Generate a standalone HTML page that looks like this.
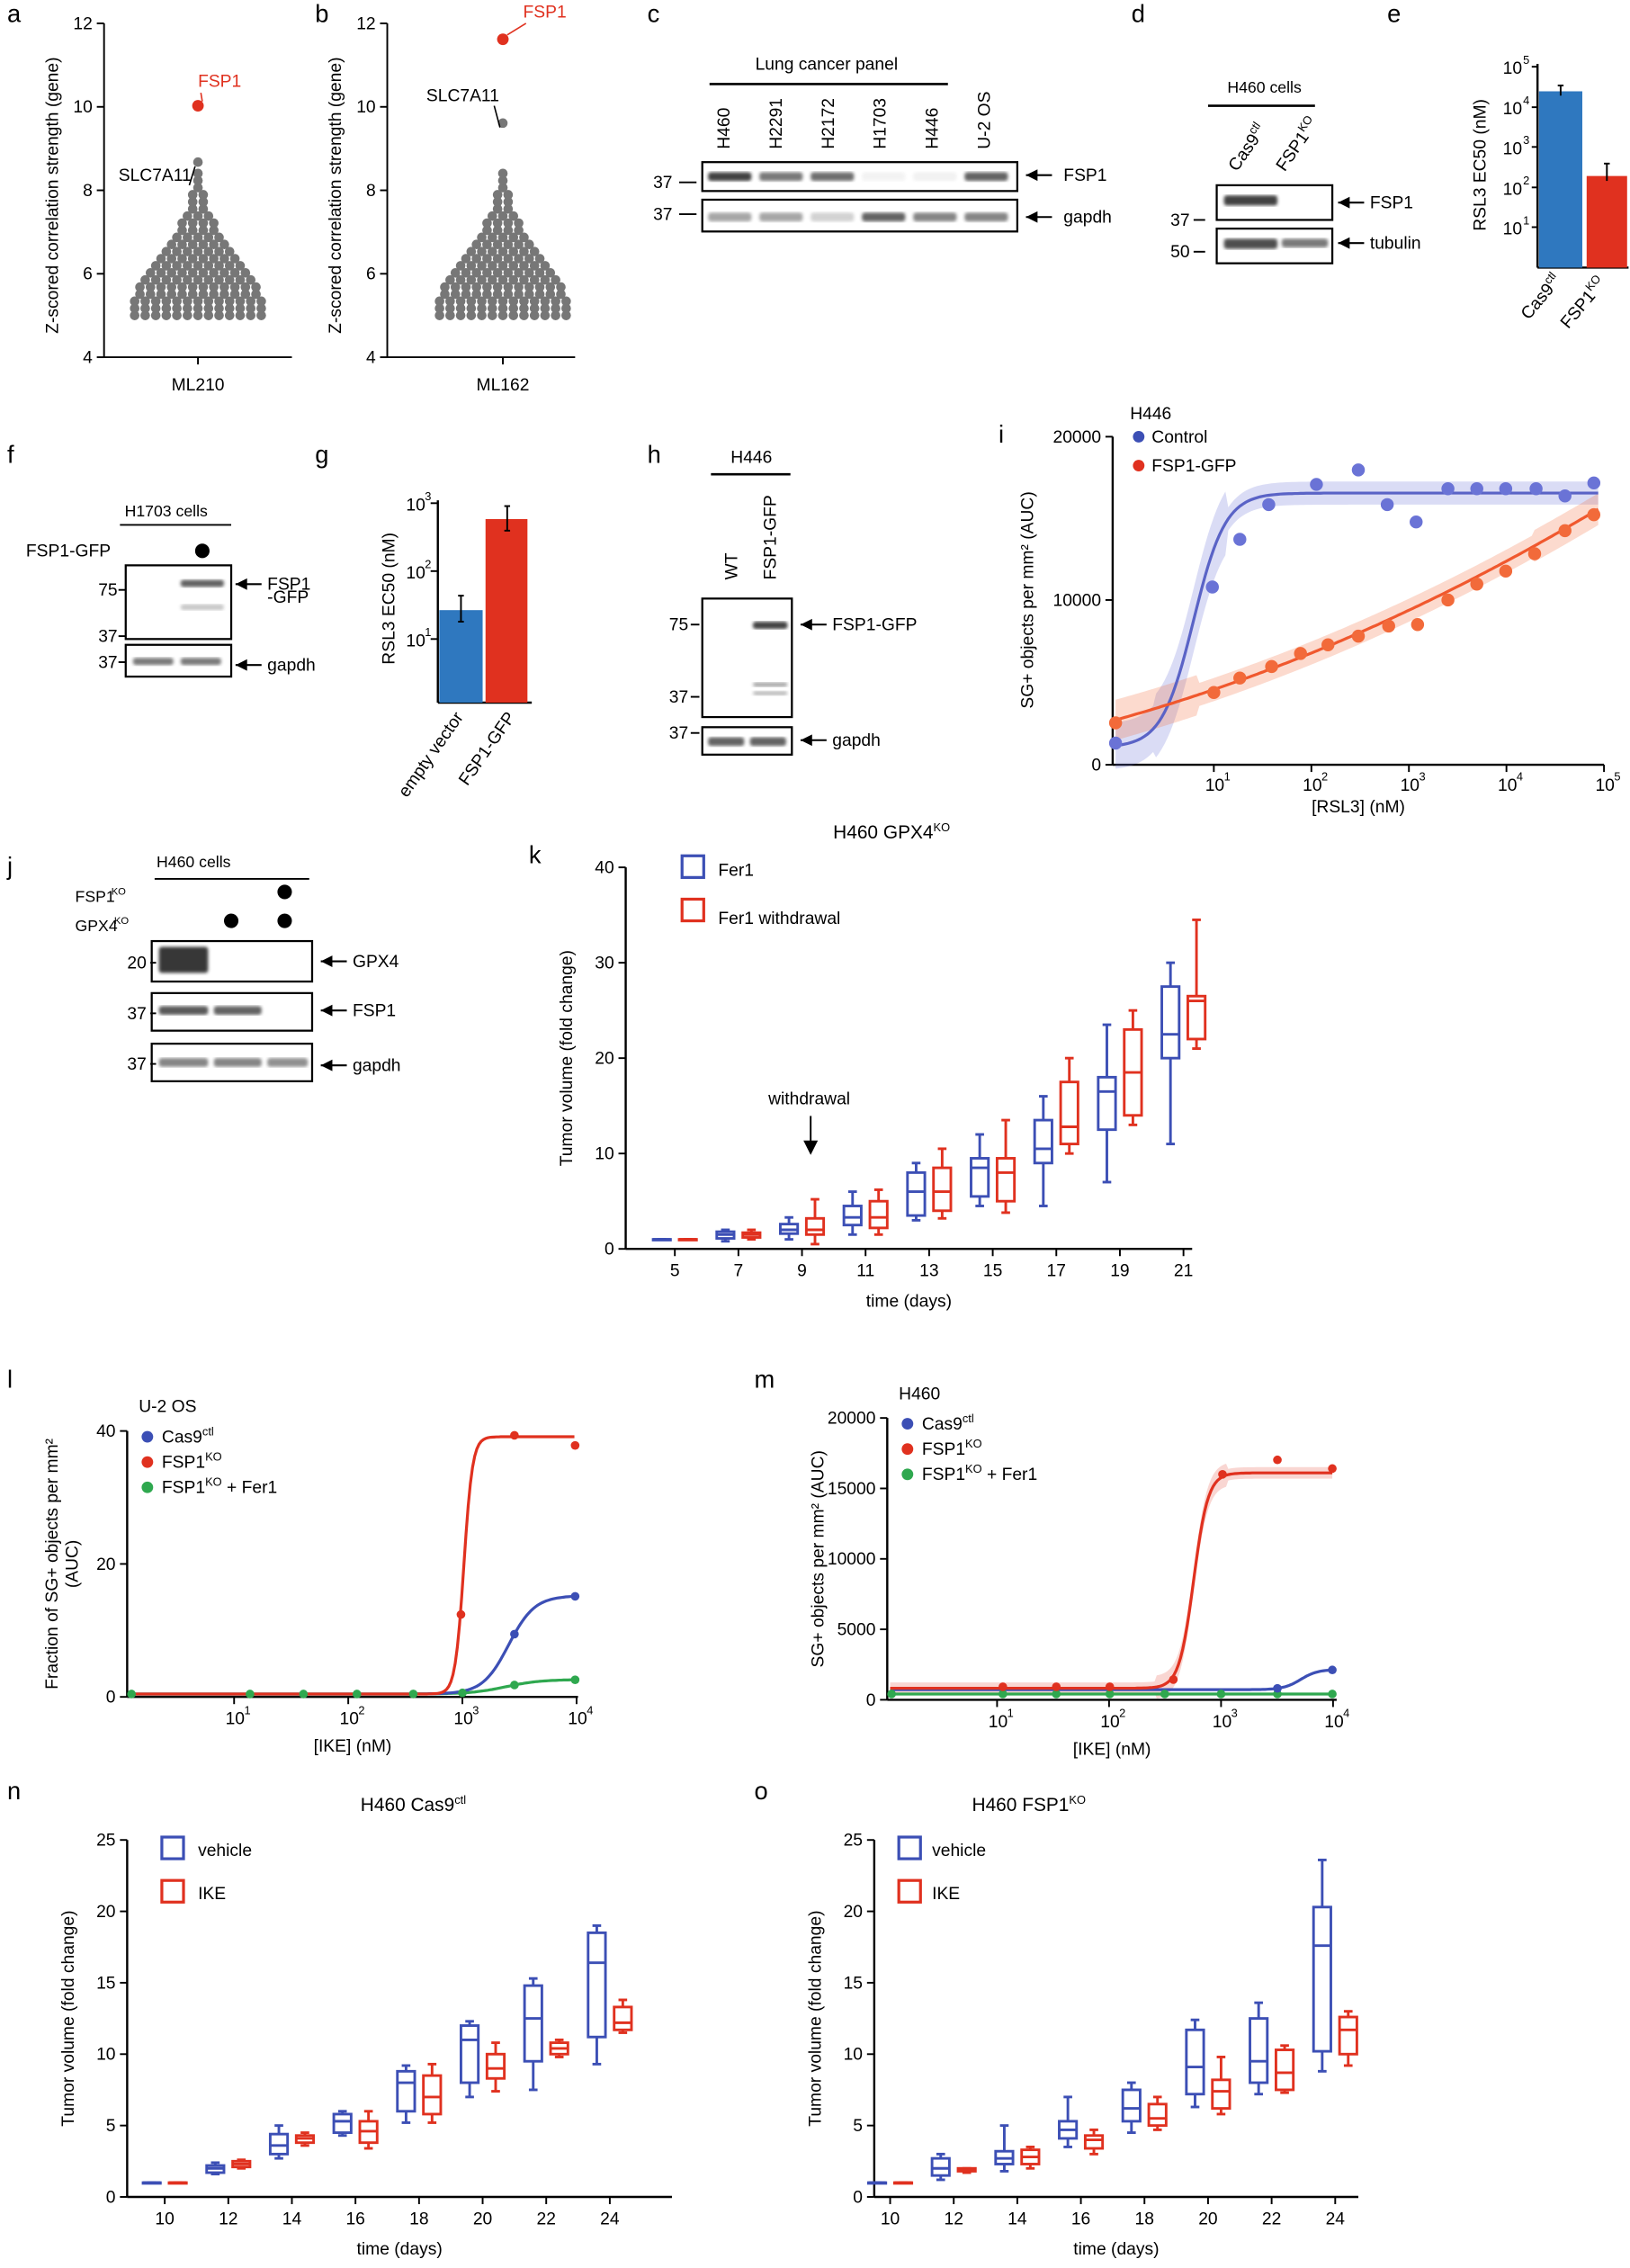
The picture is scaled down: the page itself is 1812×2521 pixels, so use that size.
<!DOCTYPE html>
<html><head><meta charset="utf-8">
<style>
html,body{margin:0;padding:0;background:#fff;}
svg{display:block;font-family:"Liberation Sans",Arial,sans-serif;}
</style></head>
<body>
<svg id="s" width="1812" height="2521" viewBox="0 0 1128 1569" xmlns="http://www.w3.org/2000/svg">
<defs><filter id="bl"><feGaussianBlur stdDeviation="1.2"/></filter></defs>
</svg>
<script>
const S=document.getElementById('s');const NS='http://www.w3.org/2000/svg';
function el(t,a,txt){const e=document.createElementNS(NS,t);for(const k in a)e.setAttribute(k,a[k]);if(txt!==undefined)e.textContent=txt;S.appendChild(e);return e;}
function L(x1,y1,x2,y2,c='#000',w=1.2){el('line',{x1,y1,x2,y2,stroke:c,'stroke-width':w});}
function T(x,y,s,o={}){const a=Object.assign({x,y,'font-size':12,fill:'#000'},o);return el('text',a,s);}
function TR(x,y,s,ang=-90,o={}){return T(x,y,s,Object.assign({transform:`rotate(${ang} ${x} ${y})`},o));}
function TH(x,y,html,ang,o={}){const e=T(x,y,'',Object.assign({transform:`rotate(${ang} ${x} ${y})`},o));e.innerHTML=html;return e;}
function C(cx,cy,r,f){el('circle',{cx,cy,r,fill:f});}
function R(x,y,w,h,o={}){el('rect',Object.assign({x,y,width:w,height:h,fill:'none',stroke:'#000','stroke-width':1.4},o));}
function P(d,o){el('path',Object.assign({d,fill:'none'},o));}
function arrow(x,y,txt,tx){P(`M${x+18} ${y}L${x} ${y}`,{stroke:'#000','stroke-width':1.3});P(`M${x} ${y}l8 -4l0 8z`,{fill:'#000'});T(tx||x+22,y+4,txt);}
function band(x,y,w,h,op){el('rect',{x,y,width:w,height:h,rx:2,fill:'#222',opacity:op,filter:'url(#bl)'});}
[['a',5,15],['b',218,15],['c',448,15],['d',783,15],['e',960,15],['f',5,320],['g',218,320],['h',448,320],['i',691,306],['j',5,605],['k',366,597],['l',5,960],['m',522,960],['n',5,1245],['o',522,1245]].forEach(p=>T(p[1],p[2],p[0],{'font-size':17}));
const GR='#3c4fb5',RD='#e0311f',GN='#2fa84f';
const sup=(a,b)=>`${a}<tspan font-size="8" dy="-5">${b}</tspan>`;
function swarm(ax,cx,fspY,slcY,fspLab,slcLab){
 L(ax,16,ax,247);[12,10,8,6,4].forEach((v,i)=>{const y=16+i*57.75;L(ax-5,y,ax,y);T(ax-8,y+4,v,{'text-anchor':'end'});});
 L(ax,247,ax+130,247);L(cx,247,cx,252);
 let i=0;
 for(let v=5;v<8.4;v+=0.17,i++){const y=247-(v-4)*28.9;
  let n=Math.round(13*Math.exp(-Math.pow(v-5,2)/(2*1.4*1.4)));n=Math.max(1,n);
  for(let k=0;k<n;k++){const x=cx+(k-(n-1)/2)*7.3;C(x,y,3.3,'#777');}}
 C(cx,slcY,3.3,'#777');C(cx,fspY,4,RD);
 T(fspLab[0],fspLab[1],'FSP1',{fill:RD});L(fspLab[0]+2,fspLab[1]+4,cx+3,fspY-3,RD,1);
 T(slcLab[0],slcLab[1],'SLC7A11');L(cx-6,slcLab[1]+3,cx-2,slcY+3,'#000',1);
}
swarm(72,137,73,112,[137,60],[82,125]);TR(40,135,'Z-scored correlation strength (gene)',-90,{'text-anchor':'middle'});T(137,270,'ML210',{'text-anchor':'middle'});
swarm(268,348,27,85,[362,12],[295,70]);TR(236,135,'Z-scored correlation strength (gene)',-90,{'text-anchor':'middle'});T(348,270,'ML162',{'text-anchor':'middle'});
// c
T(572,48,'Lung cancer panel',{'text-anchor':'middle'});L(491,58,656,58,'#000',1.6);
['H460','H2291','H2172','H1703','H446','U-2 OS'].forEach((s,i)=>{TR(505+i*36,103,s);});
R(486,112,218,20);R(486,138,218,22);
[.85,.6,.65,.05,.06,.7].forEach((o,i)=>band(490+i*35.5,119,30,6,o));
[.4,.4,.2,.7,.55,.55].forEach((o,i)=>band(490+i*35.5,147,30,6,o));
T(452,130,'37');L(470,126,482,126);T(452,152,'37');L(470,148,482,148);arrow(710,121,'FSP1',736);arrow(710,150,'gapdh',736);
// d
T(875,64,'H460 cells',{'text-anchor':'middle','font-size':11});L(836,73,910,73,'#000',1.6);
TH(856,119,sup('Cas9','ctl'),-55);TH(889,119,sup('FSP1','KO'),-55);
R(842,128,80,24);R(842,158,80,24);band(847,135,37,7,.85);band(847,165,37,7,.8);band(887,165,32,6,.6);
T(810,156,'37');L(826,152,834,152);T(810,178,'50');L(826,174,834,174);arrow(926,140,'FSP1',948);arrow(926,168,'tubulin',948);
// e
L(1064,44,1064,185,'#000',1.5);[[5,46],[4,74],[3,101.5],[2,129.5],[1,157]].forEach(p=>{L(1060,p[1],1064,p[1]);T(1040,p[1]+5,'10');T(1054,p[1]-2,p[0],{'font-size':8});});
L(1064,185,1127,185,'#000',1.5);el('rect',{x:1065,y:63,width:30,height:122,fill:'#2f78bf'});el('rect',{x:1098,y:121.6,width:28,height:63.4,fill:RD});
L(1080,59,1080,66);L(1078,59,1082,59);L(1112,113,1112,125);L(1110,113,1114,113);
TR(1028,114,'RSL3 EC50 (nM)',-90,{'text-anchor':'middle'});TH(1081,194,sup('Cas9','ctl'),-50,{'text-anchor':'end'});TH(1112,196,sup('FSP1','KO'),-50,{'text-anchor':'end'});
// f
T(115,357,'H1703 cells',{'text-anchor':'middle','font-size':11});L(83,363,160,363);T(18,385,'FSP1-GFP');C(140,381,5,'#000');
R(87,391,73,51);R(87,446,73,22);band(125,401,30,5,.7);band(125,418,30,4,.25);band(92,455,28,5,.6);band(125,455,28,5,.6);
T(68,412,'75');L(82,408,87,408);T(68,444,'37');L(82,440,87,440);T(68,462,'37');L(82,458,87,458);
arrow(163,404,'FSP1');T(185,417,'-GFP');arrow(163,460,'gapdh');
// g
L(303,346,303,486,'#000',1.5);[[3,348],[2,395],[1,442]].forEach(p=>{L(298,p[1],303,p[1]);T(281,p[1]+5,'10');T(294,p[1]-2,p[0],{'font-size':8});});
L(303,486,368,486,'#000',1.5);el('rect',{x:304,y:422,width:30,height:64,fill:'#2f78bf'});el('rect',{x:336,y:359,width:29,height:127,fill:RD});
L(319,412,319,430);L(317,412,321,412);L(317,430,321,430);L(351,350,351,367);L(349,350,353,350);L(349,367,353,367);
TR(273,414,'RSL3 EC50 (nM)',-90,{'text-anchor':'middle'});TR(321,496,'empty vector',-55,{'text-anchor':'end'});TR(357,496,'FSP1-GFP',-55,{'text-anchor':'end'});
// h
T(520,320,'H446',{'text-anchor':'middle'});L(492,328,547,328,'#000',1.6);TR(510,401,'WT');TR(537,401,'FSP1-GFP');
R(486,414,62,82);R(486,503,62,19);band(521,430,24,5,.85);band(521,472,24,3,.4);band(521,478,24,3,.3);band(490,510,25,6,.7);band(519,510,25,6,.7);
T(463,436,'75');L(478,432,484,432);T(463,486,'37');L(478,482,484,482);T(463,511,'37');L(478,507,484,507);
arrow(554,432,'FSP1-GFP',576);arrow(554,512,'gapdh',576);
// i
(function(){const x0=770,y0=529;L(x0,302,x0,y0,'#000',1.5);L(x0,y0,1110,y0,'#000',1.5);
[[20000,302],[10000,415],[0,529]].forEach(p=>{L(x0-5,p[1],x0,p[1]);T(x0-8,p[1]+4,p[0],{'text-anchor':'end'});});
[1,2,3,4,5].forEach(k=>{const x=840+67.5*(k-1);L(x,y0,x,y0+5);T(x-6,y0+18,'10');T(x+7,y0+11,k,{'font-size':8});});
T(940,562,'[RSL3] (nM)',{'text-anchor':'middle'});TR(715,415,'SG+ objects per mm² (AUC)',-90,{'text-anchor':'middle'});
T(782,290,'H446');C(788,302,4,GR);T(797,306,'Control');C(788,322,4,RD);T(797,326,'FSP1-GFP');
let db='',dr='',ub='',lb='',ur='',lr='';
for(let x=772;x<=1106;x+=2){const s=1/(1+Math.exp(-(x-826)/11));const yb=517-176*s;db+=(x==772?'M':'L')+x+' '+yb.toFixed(1);
 const t=x-772;const yr=498-0.277*t-0.000478*t*t;dr+=(x==772?'M':'L')+x+' '+yr.toFixed(1);
 const wb=x<850?(x<800?16:22):8;ub+=(x==772?'M':'L')+x+' '+(yb-wb);lb='L'+x+' '+(yb+wb)+lb;
 const wr=x<830?14:(x>1060?11:8);ur+=(x==772?'M':'L')+x+' '+(yr-wr);lr='L'+x+' '+(yr+wr)+lr;}
P(ub+lb+'Z',{fill:'#6a73d6',opacity:.25});P(ur+lr+'Z',{fill:'#f26a3a',opacity:.25});
P(db,{stroke:'#5a63c6','stroke-width':2});P(dr,{stroke:'#f0582e','stroke-width':2});
[[772,514],[839,406],[858,373],[878,349],[911,335],[940,325],[960,349],[980,361],[1002,338],[1022,338],[1042,338],[1063,338],[1083,343],[1103,334]].forEach(p=>C(p[0],p[1],4.5,'#6a73d6'));
[[772,500],[840,479],[858,469],[880,461],[900,452],[919,446],[940,440],[961,433],[981,432],[1002,415],[1022,404],[1042,395],[1062,383],[1083,367],[1103,356]].forEach(p=>C(p[0],p[1],4.5,'#f26a3a'));
})();
// j
T(134,600,'H460 cells',{'text-anchor':'middle','font-size':11});L(107,608,214,608);
T(52,624,'FSP1',{'font-size':11});T(77,619,'KO',{'font-size':7});T(52,644,'GPX4',{'font-size':11});T(79,639,'KO',{'font-size':7});
C(197,617,5,'#000');C(160,637,5,'#000');C(197,637,5,'#000');
R(105,651,111,28);R(105,687,111,26);R(105,722,111,26);
band(110,655,34,18,.9);band(110,696,34,6,.75);band(148,696,33,6,.7);band(110,732,34,6,.55);band(148,732,33,6,.55);band(185,732,28,6,.5);
T(88,670,'20');L(104,666,108,666);T(88,705,'37');L(104,701,108,701);T(88,740,'37');L(104,736,108,736);
arrow(222,665,'GPX4');arrow(222,699,'FSP1');arrow(222,737,'gapdh');
function bx(x,a,c,Y,w){const[mn,q1,md,q3,mx]=a.map(Y);L(x,mn,x,q1,c,1.8);L(x,q3,x,mx,c,1.8);L(x-w/4,mn,x+w/4,mn,c,1.8);L(x-w/4,mx,x+w/4,mx,c,1.8);
 el('rect',{x:x-w/2,y:q3,width:w,height:Math.max(q1-q3,.5),fill:'#fff',stroke:c,'stroke-width':1.8});L(x-w/2,md,x+w/2,md,c,1.8);}
function boxpanel(o){const{ax,top,bot,xr,yt,ticks,xt,bl,rd,title,tx,ylab,lx,ly}=o;
 L(ax,top,ax,bot,'#000',1.5);L(ax,bot,xr,bot,'#000',1.5);const Y=v=>bot-(bot-top)*v/yt;
 ticks.forEach(v=>{L(ax-5,Y(v),ax,Y(v));T(ax-8,Y(v)+4,v,{'text-anchor':'end'});});
 xt.forEach((p,i)=>{L(p[1],bot,p[1],bot+5);T(p[1],bot+19,p[0],{'text-anchor':'middle'});
  bx(p[1]-9,bl[i],GR,Y,12);bx(p[1]+9,rd[i],RD,Y,12);});
 T((ax+xr)/2,bot+40,'time (days)',{'text-anchor':'middle'});TR(ax-37,(top+bot)/2,ylab,-90,{'text-anchor':'middle'});
 el('text',{x:tx,y:top-20,'font-size':13,'text-anchor':'middle'}).innerHTML=title;
 R(lx,ly,15,15,{stroke:GR,'stroke-width':2});R(lx,ly+30,15,15,{stroke:RD,'stroke-width':2});
}
const f1=[1,1,1,1,1];
boxpanel({ax:433,top:600,bot:864,xr:825,yt:40,ticks:[0,10,20,30,40],xt:[5,7,9,11,13,15,17,19,21].map((d,i)=>[d,467+44*i]),
 bl:[f1,[.8,1.1,1.5,1.8,2],[1,1.6,2,2.6,3.3],[1.5,2.5,3.3,4.5,6],[3,3.5,6,8,9],[4.5,5.5,8.5,9.5,12],[4.5,9,10.5,13.5,16],[7,12.5,16.5,18,23.5],[11,20,22.5,27.5,30]],
 rd:[f1,[1,1.2,1.5,1.7,2],[.5,1.5,2,3.2,5.2],[1.5,2.2,3.3,5,6.2],[3.2,4,6,8.5,10.5],[3.8,5,8,9.5,13.5],[10,11,12.8,17.5,20],[13,14,18.5,23,25],[21,22,26,26.5,34.5]],
 title:'H460 GPX4<tspan font-size="8" dy="-5">KO</tspan>',tx:617,ylab:'Tumor volume (fold change)',lx:472,ly:592});
T(497,606,'Fer1');T(497,639,'Fer1 withdrawal');T(560,764,'withdrawal',{'text-anchor':'middle'});L(561,772,561,790);P('M561 799l-5 -10h10z',{fill:'#000'});
boxpanel({ax:88,top:1273,bot:1520,xr:465,yt:25,ticks:[0,5,10,15,20,25],xt:[10,12,14,16,18,20,22,24].map((d,i)=>[d,114+44*i]),
 bl:[f1,[1.6,1.7,2,2.2,2.4],[2.7,3,3.6,4.4,5],[4.3,4.5,5.3,5.8,6],[5.2,6,8,8.8,9.2],[7,8,11,12,12.3],[7.5,9.5,12.5,14.8,15.3],[9.3,11.2,16.4,18.5,19]],
 rd:[f1,[2,2.1,2.3,2.5,2.6],[3.6,3.8,4.1,4.3,4.5],[3.4,3.8,4.6,5.3,6],[5.2,5.8,7,8.5,9.3],[7.4,8.3,9,10,10.8],[9.8,10,10.4,10.8,11],[11.5,11.7,12.2,13.3,13.8]],
 title:'H460 Cas9<tspan font-size="8" dy="-5">ctl</tspan>',tx:286,ylab:'Tumor volume (fold change)',lx:112,ly:1271});
T(137,1284,'vehicle');T(137,1314,'IKE');
boxpanel({ax:605,top:1273,bot:1520,xr:940,yt:25,ticks:[0,5,10,15,20,25],xt:[10,12,14,16,18,20,22,24].map((d,i)=>[d,616+44*i]),
 bl:[f1,[1.2,1.5,2,2.7,3],[1.8,2.3,2.7,3.2,5],[3.5,4.1,4.7,5.3,7],[4.5,5.3,6.2,7.5,8],[6.3,7.2,9.1,11.7,12.4],[7.2,8,9.5,12.5,13.6],[8.8,10.2,17.6,20.3,23.6]],
 rd:[f1,[1.7,1.8,1.9,2,2],[2,2.3,2.8,3.3,3.5],[3,3.4,4,4.3,4.7],[4.7,5,5.5,6.5,7],[5.8,6.2,7.4,8.2,9.8],[7.3,7.5,8.7,10.3,10.6],[9.2,10,11.7,12.6,13]],
 title:'H460 FSP1<tspan font-size="8" dy="-5">KO</tspan>',tx:712,ylab:'Tumor volume (fold change)',lx:622,ly:1271});
T(645,1284,'vehicle');T(645,1314,'IKE');
function ike(o){const{ax,top,bot,xr,dec0,dpd,ticks,tv,title,ylab,red,blue,green,rdots,bdots,band:bd,ylx}=o;
 L(ax,top,ax,bot,'#000',1.5);L(ax,bot,xr,bot,'#000',1.5);ticks.forEach((v,i)=>{const y=bot-(bot-top)*tv[i];L(ax-5,y,ax,y);T(ax-8,y+4,v,{'text-anchor':'end'});});
 [1,2,3,4].forEach(k=>{const x=dec0+dpd*(k-1);L(x,bot,x,bot+5);T(x-6,bot+19,'10');T(x+7,bot+12,k,{'font-size':8});});
 T((ax+xr)/2,bot+38,'[IKE] (nM)',{'text-anchor':'middle'});
 ylab.forEach((s,i)=>TR(ylx+i*14,(top+bot)/2,s,-90,{'text-anchor':'middle'}));
 T(ax+8,top-13,title);
 const labs=[sup('Cas9','ctl'),sup('FSP1','KO'),'FSP1<tspan font-size="8" dy="-5">KO</tspan><tspan dy="5"> + Fer1</tspan>'];
 [GR,RD,GN].forEach((c,i)=>{const y=top+4+i*17.5;C(ax+14,y,4,c);T(ax+24,y+4,'').innerHTML=labs[i];});
 function curve(f,c,w){let d='';for(let x=ax+2;x<=xr-2;x+=1.5)d+=(d?'L':'M')+x+' '+f(x).toFixed(1);P(d,{stroke:c,'stroke-width':w});}
 if(bd){let u='',l='';for(let x=ax+2;x<=xr-2;x+=1.5){const y=red(x);const w=(x>800&&x<850)?bd*2:bd;u+=(u?'L':'M')+x+' '+(y-w);l='L'+x+' '+(y+w)+l;}P(u+l+'Z',{fill:RD,opacity:.2});}
 curve(green,GN,2);curve(blue,GR,2);curve(red,RD,2);
 o.gdots.forEach(x=>C(x,green(x),3,GN));bdots.forEach(x=>C(x,blue(x),3,GR));rdots.forEach(p=>C(p[0],p[1],3,RD));
}
ike({ax:88,top:990,bot:1174,xr:400,dec0:162,dpd:79,ticks:[0,20,40],tv:[0,.5,1],title:'U-2 OS',ylx:40,
 ylab:['Fraction of SG+ objects per mm²','(AUC)'],
 red:x=>1172-178/(1+Math.exp(-(x-321)/3)),blue:x=>1172-68/(1+Math.exp(-(x-352)/9)),green:x=>1172-10/(1+Math.exp(-(x-350)/12)),
 gdots:[91,173,210,247,286,320,356,398],bdots:[356,398],rdots:[[319,1117],[356,993],[398,1000]],band:0});
ike({ax:614,top:981,bot:1176,xr:925,dec0:690,dpd:77.5,ticks:[0,5000,10000,15000,20000],tv:[0,.25,.5,.75,1],title:'H460',ylx:556,
 ylab:['','SG+ objects per mm² (AUC)'],
 red:x=>1168-149/(1+Math.exp(-(x-826)/5)),blue:x=>1169-14/(1+Math.exp(-(x-900)/6)),green:x=>1172,
 gdots:[617,694,731,768,806,845,884,922],bdots:[884,922],rdots:[[694,1167],[731,1167],[768,1167],[812,1162],[846,1020],[884,1010],[922,1016]],band:4});
</script>
</body></html>
